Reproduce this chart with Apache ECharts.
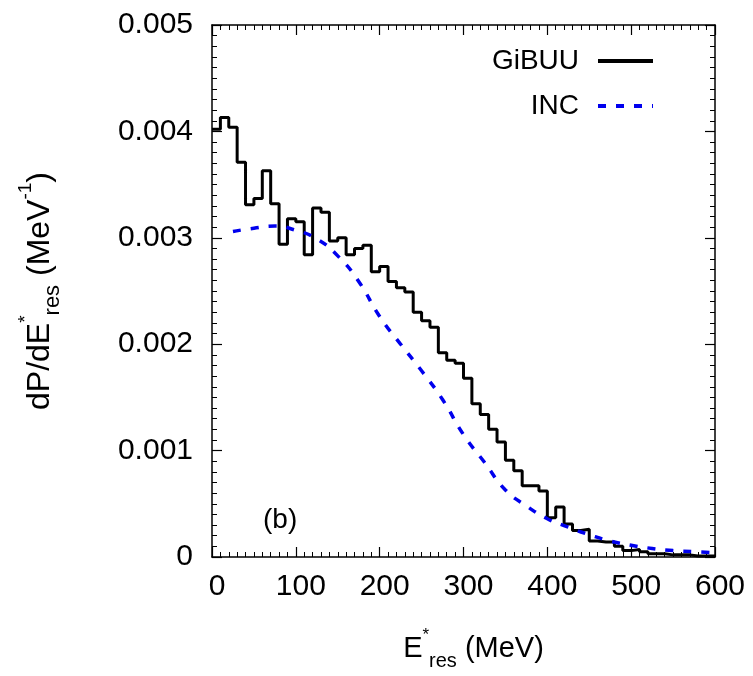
<!DOCTYPE html>
<html>
<head>
<meta charset="utf-8">
<script src="https://cdn.jsdelivr.net/npm/echarts@6/dist/echarts.min.js"></script>
<style>html,body{margin:0;padding:0;background:#fff;}#c{width:753px;height:676px;}</style>
</head>
<body>
<div id="c"></div>
<script>
// GiBUU histogram: left bin edges (MeV) and bin values (MeV^-1), 10 MeV bins
const gibuuEdges = [0,10,20,30,40,50,60,70,80,90,100,110,120,130,140,150,160,170,180,190,200,210,220,230,240,250,260,270,280,290,300,310,320,330,340,350,360,370,380,390,400,410,420,430,440,450,460,470,480,490,500,510,520,530,540,550,560,570,580,590,600];
const gibuuValues = [0.00402,0.00413,0.00404,0.00371,0.00331,0.00337,0.00363,0.00332,0.00294,0.00318,0.00315,0.00284,0.00328,0.00324,0.00297,0.00300,0.00284,0.00290,0.00293,0.00268,0.00273,0.00259,0.00253,0.00249,0.00230,0.00222,0.00216,0.00192,0.00185,0.00182,0.00168,0.00144,0.00134,0.00120,0.00108,0.00091,0.00081,0.00067,0.00067,0.00062,0.00037,0.00047,0.00031,0.00025,0.00026,0.00015,0.00014,0.00014,0.00010,0.00006,0.00007,0.00005,0.00003,0.00003,0.00002,0.00002,0.00002,0.00001,0.00001,0.00001,0.00001];
// INC curve
const incE = [25,50,75,100,125,150,175,200,225,250,275,300,325,350,375,400,425,450,475,500,525,550,575,600];
const incValues = [0.00306,0.00309,0.00311,0.00307,0.00299,0.00283,0.00259,0.00226,0.00200,0.00175,0.00148,0.00115,0.00089,0.00063,0.00048,0.00036,0.00028,0.00021,0.00015,0.00011,0.00008,0.00006,0.00005,0.00004];
// ticks
const xTicks = {min: 0, max: 600, interval: 100};
const yTicks = {min: 0, max: 0.005, interval: 0.001};
const panelLabel = '(b)';

const FONT = '"Liberation Sans", Arial, sans-serif';
const chart = echarts.init(document.getElementById('c'), null, {renderer: 'canvas'});

const gibuuData = gibuuEdges.map((e, i) => [e, gibuuValues[i]]);
const incData = incE.map((e, i) => [e, incValues[i]]);

const richX = {
  n: {fontSize: 29, fontFamily: FONT, color: '#000', lineHeight: 44},
  sup: {fontSize: 17, fontFamily: FONT, color: '#000', lineHeight: 17, verticalAlign: 'top'},
  sub: {fontSize: 20, fontFamily: FONT, color: '#000', lineHeight: 20, verticalAlign: 'bottom'}
};
const richY = {
  n: {fontSize: 32, fontFamily: FONT, color: '#000', lineHeight: 48},
  sup: {fontSize: 19, fontFamily: FONT, color: '#000', lineHeight: 19, verticalAlign: 'top'},
  sub: {fontSize: 22, fontFamily: FONT, color: '#000', lineHeight: 22, verticalAlign: 'bottom'}
};

function axisCommon(show) {
  return {
    axisLine: {show: true, onZero: false, lineStyle: {color: '#000', width: 1.5}},
    axisTick: {show: true, inside: true, length: 10, lineStyle: {color: '#000', width: 1.2}},
    minorTick: {show: true, splitNumber: 10, length: 5, lineStyle: {color: '#000', width: 1}},
    splitLine: {show: false},
    minorSplitLine: {show: false},
    axisLabel: {show: show, color: '#000', fontSize: 30, fontFamily: FONT}
  };
}

const option = {
  backgroundColor: '#fff',
  animation: false,
  grid: {left: 212, right: 38, top: 25, bottom: 111},
  legend: {
    data: ['GiBUU', 'INC'],
    orient: 'vertical',
    align: 'right',
    right: 93,
    top: 42,
    itemWidth: 55,
    itemHeight: 14,
    itemGap: 17,
    itemStyle: {opacity: 0},
    lineStyle: {width: 4},
    textStyle: {fontSize: 28, fontFamily: FONT, color: '#000', padding: [0, 14, 0, 0]}
  },
  xAxis: [
    Object.assign({
      type: 'value', min: xTicks.min, max: xTicks.max, interval: xTicks.interval, position: 'bottom',
      name: '{n|E}{sup|*}{sub|res}{n| (MeV)}', nameLocation: 'middle', nameGap: 70,
      nameTextStyle: {rich: richX, padding: [0, 0, 0, 20]}
    }, axisCommon(true), {axisLabel: {show: true, color: '#000', fontSize: 30, fontFamily: FONT, margin: 15, padding: [0, 0, 0, 10]}}),
    Object.assign({
      type: 'value', min: xTicks.min, max: xTicks.max, interval: xTicks.interval, position: 'top', gridIndex: 0
    }, axisCommon(false))
  ],
  yAxis: [
    Object.assign({
      type: 'value', min: yTicks.min, max: yTicks.max, interval: yTicks.interval, position: 'left',
      name: '{n|dP/dE}{sup|*}{sub|res}{n| (MeV}{sup|-1}{n|)}', nameLocation: 'middle', nameGap: 148, nameRotate: 90,
      nameTextStyle: {rich: richY}
    }, axisCommon(true), {axisLabel: {show: true, color: '#000', fontSize: 30, fontFamily: FONT, margin: 19, formatter: v => v === 0 ? '0' : v.toFixed(3)}}),
    Object.assign({
      type: 'value', min: yTicks.min, max: yTicks.max, interval: yTicks.interval, position: 'right', gridIndex: 0
    }, axisCommon(false))
  ],
  series: [
    {
      name: 'GiBUU', type: 'line', step: 'end', data: gibuuData, symbol: 'none',
      xAxisIndex: 0, yAxisIndex: 0,
      lineStyle: {color: '#000', width: 3}, itemStyle: {color: '#000'}
    },
    {
      name: 'INC', type: 'line', smooth: true, data: incData, symbol: 'none',
      xAxisIndex: 0, yAxisIndex: 0,
      lineStyle: {color: '#0000ee', width: 3.5, type: [8, 10]}, itemStyle: {color: '#0000ee'}
    }
  ],
  graphic: [
    {type: 'text', left: 263, top: 506, style: {text: panelLabel, fontSize: 28, fontFamily: FONT, fill: '#000'}}
  ]
};
chart.setOption(option);
</script>
</body>
</html>
